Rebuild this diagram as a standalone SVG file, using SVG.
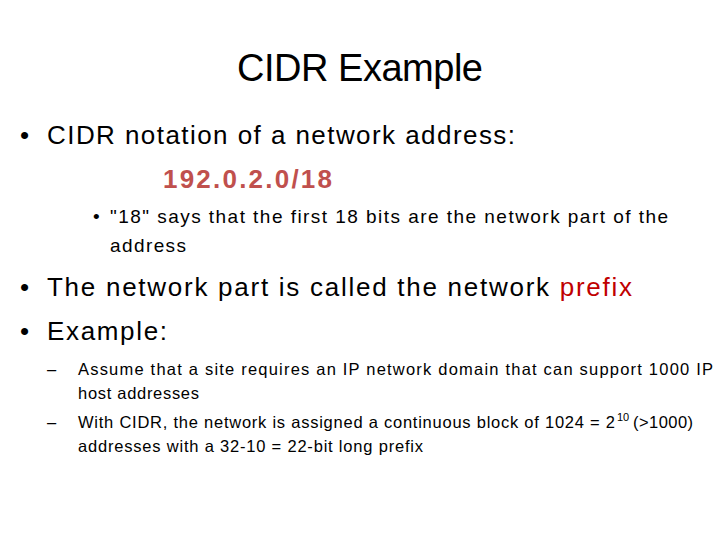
<svg xmlns="http://www.w3.org/2000/svg" width="720" height="540" viewBox="0 0 720 540">
<style>
text{font-family:"Liberation Sans","Open Sans",sans-serif;fill:#000}
.t{font-size:38px}
.b1{font-size:26px}
.b2{font-size:19px}
.b3{font-size:16.5px}
.red{fill:#c00000}
.rb{fill:#c0504d;font-weight:bold}
</style>
<rect width="720" height="540" fill="#fff"/>
<text class="t" x="360" y="81" text-anchor="middle" textLength="246">CIDR Example</text>
<text class="b1" x="20" y="144">•</text>
<text class="b1" x="47" y="144" textLength="468">CIDR notation of a network address:</text>
<text class="b1 rb" x="163" y="188" textLength="169">192.0.2.0/18</text>
<text class="b2" x="93" y="223">•</text>
<text class="b2" x="110" y="223" textLength="558">"18" says that the first 18 bits are the network part of the</text>
<text class="b2" x="110" y="252" textLength="76">address</text>
<text class="b1" x="20" y="296">•</text>
<text class="b1" x="47" y="296" textLength="585">The network part is called the network <tspan class="red">prefix</tspan></text>
<text class="b1" x="20" y="340">•</text>
<text class="b1" x="47" y="340" textLength="120">Example:</text>
<text class="b3" x="47" y="375">–</text>
<text class="b3" x="78" y="375" textLength="635">Assume that a site requires an IP network domain that can support 1000 IP</text>
<text class="b3" x="78" y="399" textLength="121">host addresses</text>
<text class="b3" x="47" y="428">–</text>
<text class="b3" x="78" y="428" textLength="537">With CIDR, the network is assigned a continuous block of 1024 = 2</text>
<text x="617" y="421" font-size="11">10</text>
<text class="b3" x="633" y="428" textLength="60">(&gt;1000)</text>
<text class="b3" x="78" y="452" textLength="345">addresses with a 32-10 = 22-bit long prefix</text>
</svg>
